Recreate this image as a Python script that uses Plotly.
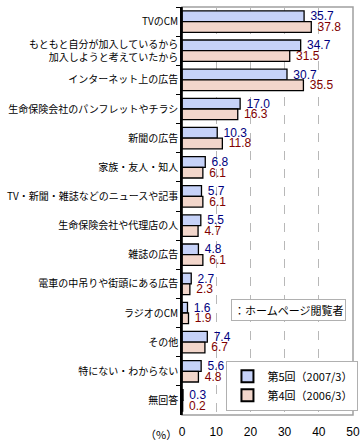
import plotly.graph_objects as go

categories = [
    "TVのCM",
    "もともと自分が加入しているから<br>加入しようと考えていたから",
    "インターネット上の広告",
    "生命保険会社のパンフレットやチラシ",
    "新聞の広告",
    "家族・友人・知人",
    "TV・新聞・雑誌などのニュースや記事",
    "生命保険会社や代理店の人",
    "雑誌の広告",
    "電車の中吊りや街頭にある広告",
    "ラジオのCM",
    "その他",
    "特にない・わからない",
    "無回答",
]
series5 = [35.7, 34.7, 30.7, 17.0, 10.3, 6.8, 5.7, 5.5, 4.8, 2.7, 1.6, 7.4, 5.6, 0.3]
series4 = [37.8, 31.5, 35.5, 16.3, 11.8, 6.1, 6.1, 4.7, 6.1, 2.3, 1.9, 6.7, 4.8, 0.2]
name5 = "第5回（2007/3）"
name4 = "第4回（2006/3）"
x_ticks = [0, 10, 20, 30, 40, 50]

JP = "Noto Sans CJK JP"
NUM = "Liberation Sans, Arial"

fig = go.Figure()
fig.add_trace(go.Bar(
    y=categories, x=series5, orientation="h", name=name5,
    marker=dict(color="#c6d2f8", line=dict(color="black", width=1.3)),
    text=series5, texttemplate="\u00a0%{x:.1f}", textposition="outside",
    textfont=dict(color="#000080", size=12, family=NUM),
    constraintext="none", cliponaxis=False,
))
fig.add_trace(go.Bar(
    y=categories, x=series4, orientation="h", name=name4,
    marker=dict(color="#f2d6cb", line=dict(color="black", width=1.3)),
    text=series4, texttemplate="\u00a0%{x:.1f}", textposition="outside",
    textfont=dict(color="#800000", size=12, family=NUM),
    constraintext="none", cliponaxis=False,
))

fig.update_layout(
    width=363, height=446,
    margin=dict(l=182, r=10, t=7, b=31, autoexpand=False),
    paper_bgcolor="white", plot_bgcolor="white",
    barmode="group", bargap=0.265, bargroupgap=0,
    font=dict(family=JP, size=10, color="black"),
    showlegend=True,
    legend=dict(
        x=0.26, y=0.133, xanchor="left", yanchor="top",
        bgcolor="white", bordercolor="#b0b0b0", borderwidth=1,
        font=dict(family=JP, size=11, color="black"),
        tracegroupgap=0, itemsizing="constant", itemwidth=30,
    ),
    xaxis=dict(
        range=[0, 50], tickvals=x_ticks, showgrid=True,
        gridcolor="#b8b8b8", griddash="dash", gridwidth=1,
        zeroline=False, showline=False, ticks="", automargin=False,
        ticklabelstandoff=8,
        tickfont=dict(family=NUM, size=12, color="black"),
        fixedrange=True,
    ),
    yaxis=dict(
        autorange="reversed", showline=True, linecolor="black", linewidth=1.5,
        ticks="outside", tickson="boundaries", ticklen=4, tickcolor="black",
        tickfont=dict(family=JP, size=10, color="black"), automargin=False,
        showgrid=False, zeroline=False, fixedrange=True,
    ),
    shapes=[
        dict(type="rect", xref="paper", yref="paper", x0=0, x1=1, y0=0, y1=1,
             line=dict(color="#a0a0a0", width=1.5), layer="below"),
        dict(type="line", xref="paper", yref="paper", x0=0, x1=0, y0=0, y1=1,
             line=dict(color="black", width=1.5)),
    ],
    annotations=[
        dict(text="：ホームページ閲覧者", xref="paper", yref="paper",
             x=0.62, y=0.257, xanchor="center", yanchor="middle", showarrow=False,
             font=dict(family=JP, size=11, color="black"),
             bgcolor="white", bordercolor="#b0b0b0", borderwidth=1, borderpad=2),
        dict(text="（%）", xref="paper", yref="paper", x=-0.12, y=-0.047,
             xanchor="center", yanchor="middle", showarrow=False,
             font=dict(family=JP, size=11, color="black")),
    ],
)

fig.write_html(
    "out.html",
    config={"displayModeBar": False},
    post_script="document.body.style.margin='0';document.body.style.padding='0';",
)
